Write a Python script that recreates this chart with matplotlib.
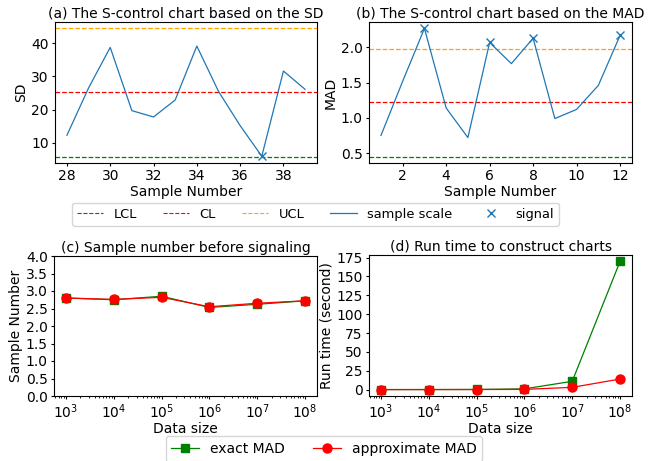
import matplotlib
matplotlib.use("Agg")
import matplotlib.pyplot as plt
from matplotlib.lines import Line2D

# (a) SD chart
sd_x = list(range(28, 40))
sd_y = [12.3, 26.5, 38.7, 19.7, 17.8, 22.9, 39.1, 25.5, 15.2, 6.0, 31.6, 26.1]
sd_signal_x = [37]
sd_signal_y = [6.0]
sd_lcl, sd_cl, sd_ucl = 5.9, 25.2, 44.4

# (b) MAD chart
mad_x = list(range(1, 13))
mad_y = [0.75, 1.52, 2.27, 1.14, 0.72, 2.07, 1.77, 2.13, 0.99, 1.12, 1.46, 2.17]
mad_signal_x = [3, 6, 8, 12]
mad_signal_y = [2.27, 2.07, 2.13, 2.17]
mad_lcl, mad_cl, mad_ucl = 0.45, 1.22, 1.98

# (c),(d)
sizes = [1e3, 1e4, 1e5, 1e6, 1e7, 1e8]
exact_n = [2.80, 2.75, 2.85, 2.53, 2.62, 2.72]
approx_n = [2.80, 2.76, 2.82, 2.55, 2.65, 2.72]
exact_t = [0.05, 0.1, 0.2, 1.0, 11.0, 170.0]
approx_t = [0.03, 0.05, 0.1, 0.3, 3.0, 14.0]

fs = 10
plt.rcParams.update({
    'font.size': fs,
    'xtick.major.size': 2.5, 'ytick.major.size': 2.5,
    'xtick.minor.size': 1.5, 'ytick.minor.size': 1.5,
    'xtick.major.pad': 2, 'ytick.major.pad': 2,
    'xtick.minor.pad': 2, 'axes.linewidth': 0.8,
})
fig = plt.figure(figsize=(6.57, 4.61), dpi=100)
W, H = 657, 461
def box(l, t, r, b):
    return [l / W, 1 - b / H, (r - l) / W, (b - t) / H]

ax1 = fig.add_axes(box(55, 22, 317, 163))
ax2 = fig.add_axes(box(369, 22, 632, 163))
ax3 = fig.add_axes(box(54, 256, 317, 396))
ax4 = fig.add_axes(box(369, 255, 632, 396))

def control(ax, x, y, sx, sy, lcl, cl, ucl):
    ax.axhline(lcl, color='green', ls='--', lw=0.9)
    ax.axhline(cl, color='red', ls='--', lw=0.9)
    ax.axhline(ucl, color='orange', ls='--', lw=0.9)
    ax.plot(x, y, color='C0', lw=0.9)
    ax.plot(sx, sy, 'x', color='C0', ms=6)

control(ax1, sd_x, sd_y, sd_signal_x, sd_signal_y, sd_lcl, sd_cl, sd_ucl)
ax1.set_title('(a) The S-control chart based on the SD', fontsize=fs, pad=3)
ax1.set_xlabel('Sample Number', labelpad=1)
ax1.set_ylabel('SD', labelpad=2)
ax1.set_xticks([28, 30, 32, 34, 36, 38])
ax1.set_yticks([10, 20, 30, 40])

control(ax2, mad_x, mad_y, mad_signal_x, mad_signal_y, mad_lcl, mad_cl, mad_ucl)
ax2.set_title('(b) The S-control chart based on the MAD', fontsize=fs, pad=3)
ax2.set_xlabel('Sample Number', labelpad=1)
ax2.set_ylabel('MAD', labelpad=2)
ax2.set_xticks([2, 4, 6, 8, 10, 12])
ax2.set_yticks([0.5, 1.0, 1.5, 2.0])

handles = [Line2D([], [], color='green', ls='--', lw=0.8),
           Line2D([], [], color='red', ls='--', lw=0.8),
           Line2D([], [], color='orange', ls='--', lw=0.8),
           Line2D([], [], color='C0', lw=0.9),
           Line2D([], [], color='C0', ls='none', marker='x', ms=6)]
fig.legend(handles, ['LCL', 'CL', 'UCL', 'sample scale', 'signal'],
           loc='center', bbox_to_anchor=(0.480, 0.535), ncol=5, fontsize=9.4)

for ax, e, a in [(ax3, exact_n, approx_n), (ax4, exact_t, approx_t)]:
    ax.plot(sizes, e, 's-', color='green', ms=6, lw=0.9, label='exact MAD')
    ax.plot(sizes, a, 'o-', color='red', ms=6.5, lw=0.9, label='approximate MAD')
    ax.set_xscale('log')
    ax.set_xticks(sizes)
    ax.set_xlabel('Data size', labelpad=1)

ax3.set_ylim(0, 4)
ax3.set_yticks([0, 0.5, 1, 1.5, 2, 2.5, 3, 3.5, 4])
ax3.set_ylabel('Sample Number', labelpad=2)
ax3.set_title('(c) Sample number before signaling', fontsize=fs, pad=3)
ax4.set_yticks([0, 25, 50, 75, 100, 125, 150, 175])
ax4.set_ylabel('Run time (second)', labelpad=2)
ax4.set_title('(d) Run time to construct charts', fontsize=fs, pad=3)

h, l = ax3.get_legend_handles_labels()
fig.legend(h, l, loc='center', bbox_to_anchor=(0.493, 0.026), ncol=2,
           fontsize=fs)

fig.savefig('out.png', dpi=100)
